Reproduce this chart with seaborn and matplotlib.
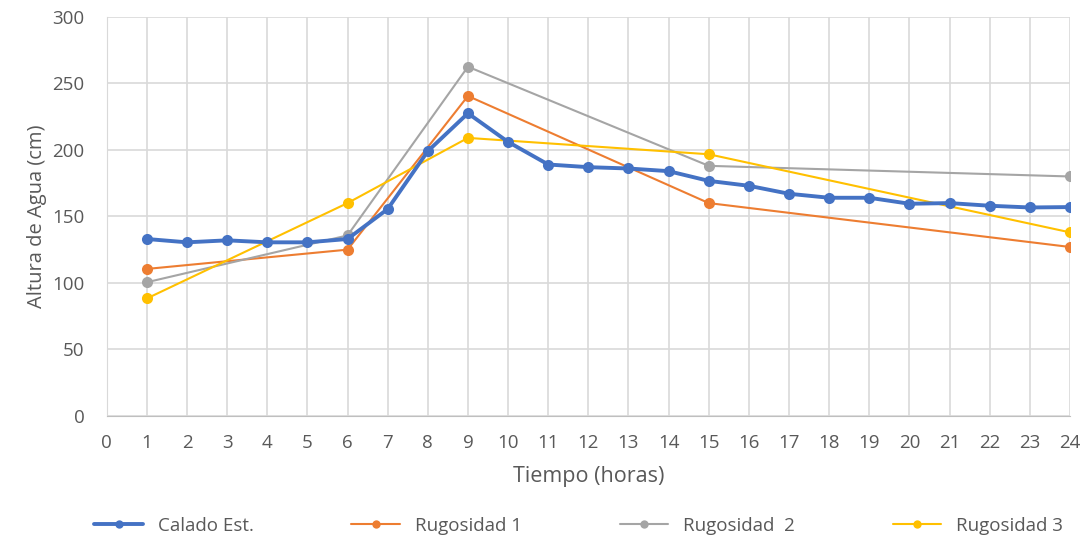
import pandas as pd
import matplotlib
matplotlib.use("Agg")
import matplotlib.pyplot as plt
import seaborn as sns

# datos
horas_est = list(range(1, 25))
calado_est = [133, 130.5, 132, 130.5, 130.5, 133, 155.5, 199, 227.5, 206, 189, 187,
              186, 184, 176.7, 173, 167, 164, 164, 159.5, 160, 158, 156.7, 157]
horas_rug = [1, 6, 9, 15, 24]
rugosidad_1 = [110.5, 125, 240.5, 160, 127]
rugosidad_2 = [100.5, 135.7, 262.5, 188, 180]
rugosidad_3 = [88.3, 160, 209, 196.7, 138]

colores = {"Calado Est.": "#4472C4", "Rugosidad 1": "#ED7D31",
           "Rugosidad  2": "#A5A5A5", "Rugosidad 3": "#FFC000"}

sns.set_style("white")
plt.rcParams["font.family"] = ["Open Sans", "DejaVu Sans"]
txt = "#595959"

fig = plt.figure(figsize=(10.89, 5.43), dpi=100)
ax = fig.add_axes([0.098, 0.234, 0.8845, 0.735])

series = [("Rugosidad 1", horas_rug, rugosidad_1),
          ("Rugosidad  2", horas_rug, rugosidad_2),
          ("Rugosidad 3", horas_rug, rugosidad_3)]
for nombre, xs, ys in series:
    df = pd.DataFrame({"hora": xs, "altura": ys})
    sns.lineplot(data=df, x="hora", y="altura", ax=ax, color=colores[nombre],
                 linewidth=1.5, marker="o", markersize=8, markeredgewidth=0,
                 label=nombre, zorder=3)

df_est = pd.DataFrame({"hora": horas_est, "altura": calado_est})
sns.lineplot(data=df_est, x="hora", y="altura", ax=ax, color=colores["Calado Est."],
             linewidth=2.8, marker="o", markersize=8, markeredgewidth=0,
             label="Calado Est.", zorder=4)

ax.set_xlim(0, 24)
ax.set_ylim(0, 300)
ax.set_xticks(range(0, 25))
ax.set_yticks(range(0, 301, 50))
ax.grid(True, color="#D9D9D9", linewidth=1.2)
ax.set_axisbelow(True)
for s in ["top", "right"]:
    ax.spines[s].set_visible(False)
ax.spines["left"].set_color("#D9D9D9")
ax.spines["bottom"].set_color("#BFBFBF")
ax.tick_params(axis="both", length=0, labelsize=13.5, colors=txt, pad=13)
ax.tick_params(axis="y", pad=16)
ax.set_xlabel("Tiempo (horas)", fontsize=15.5, color=txt, labelpad=10)
ax.set_ylabel("Altura de Agua (cm)", fontsize=14.5, color=txt, labelpad=4)

h, l = ax.get_legend_handles_labels()
orden = [3, 0, 1, 2]
ax.legend([h[i] for i in orden], [l[i] for i in orden], ncol=4, frameon=False,
          loc="center", bbox_to_anchor=(0.49, -0.275), fontsize=13.5,
          labelcolor=txt, columnspacing=5.2, handlelength=2.6, markerscale=0.75)

fig.savefig("out.png", dpi=100)
